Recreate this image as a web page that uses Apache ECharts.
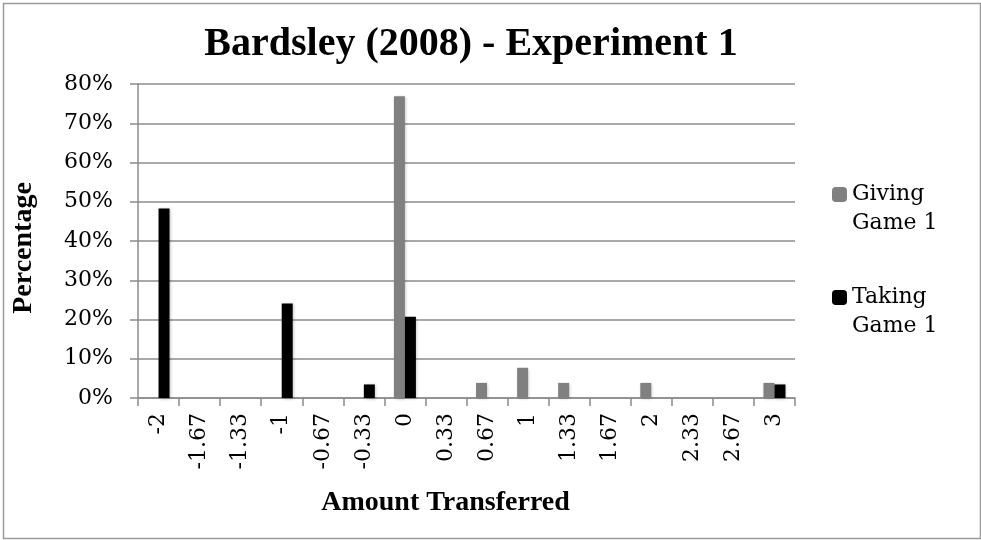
<!DOCTYPE html>
<html>
<head>
    <meta charset="utf-8">
    <title>Bardsley (2008) - Experiment 1</title>
    <script src="https://cdn.jsdelivr.net/npm/echarts@6/dist/echarts.min.js"></script>
    <style>
        html, body { margin: 0; padding: 0; background: #fff; }
        #main { width: 981px; height: 540px; }
    </style>
</head>
<body>
    <div id="main"></div>
    <script type="text/javascript">
        // data (percent)
        var categories = ['-2', '-1.67', '-1.33', '-1', '-0.67', '-0.33', '0', '0.33',
                          '0.67', '1', '1.33', '1.67', '2', '2.33', '2.67', '3'];
        var givingGame1 = [0, 0, 0, 0, 0, 0, 76.9, 0, 3.85, 7.7, 3.85, 0, 3.85, 0, 0, 3.85];
        var takingGame1 = [48.3, 0, 0, 24.1, 0, 3.45, 20.7, 0, 0, 0, 0, 0, 0, 0, 0, 3.45];
        var yTicks = [0, 10, 20, 30, 40, 50, 60, 70, 80];

        var serif = '"DejaVu Serif", "Liberation Serif", serif';
        var boldSerif = '"Liberation Serif", serif';
        var gridGray = '#8c8c8c';

        var myChart = echarts.init(document.getElementById('main'), null, { renderer: 'canvas' });

        var barShadow = {
            shadowColor: 'rgba(0,0,0,0.25)',
            shadowBlur: 3,
            shadowOffsetX: 1,
            shadowOffsetY: 1
        };

        var option = {
            animation: false,
            backgroundColor: '#fff',
            title: {
                text: 'Bardsley (2008) - Experiment 1',
                left: 466,
                textAlign: 'center',
                top: 20,
                textStyle: {
                    fontFamily: boldSerif,
                    fontWeight: 'bold',
                    fontSize: 40,
                    color: '#000'
                }
            },
            graphic: [{
                type: 'rect',
                left: 1,
                top: 1,
                shape: { width: 977, height: 535 },
                style: { fill: 'none', stroke: '#9a9a9a', lineWidth: 1.5 },
                silent: true
            }],
            legend: {
                orient: 'vertical',
                left: 827,
                top: 146,
                itemWidth: 15,
                itemHeight: 15,
                itemGap: 16,
                data: ['Giving Game 1', 'Taking Game 1'],
                formatter: function (name) {
                    // empty first line so the square lines up with the first word
                    return '\n' + name.replace(' Game', '\nGame');
                },
                textStyle: {
                    fontFamily: serif,
                    fontSize: 22,
                    lineHeight: 29,
                    color: '#000'
                }
            },
            grid: {
                left: 138,
                right: 186,
                top: 84,
                bottom: 142
            },
            xAxis: {
                type: 'category',
                data: categories,
                name: 'Amount Transferred',
                nameLocation: 'middle',
                nameGap: 91,
                nameTextStyle: {
                    fontFamily: boldSerif,
                    fontWeight: 'bold',
                    fontSize: 28,
                    color: '#000',
                    padding: [0, 42, 0, 0]
                },
                axisLine: { lineStyle: { color: gridGray, width: 1.5 } },
                axisTick: { show: true, length: 8, lineStyle: { color: gridGray, width: 1.5 } },
                axisLabel: {
                    rotate: 90,
                    interval: 0,
                    margin: 15,
                    fontFamily: serif,
                    fontSize: 22,
                    color: '#000'
                }
            },
            yAxis: {
                type: 'value',
                min: 0,
                max: 80,
                interval: 10,
                name: 'Percentage',
                nameLocation: 'middle',
                nameGap: 100,
                nameTextStyle: {
                    fontFamily: boldSerif,
                    fontWeight: 'bold',
                    fontSize: 28,
                    color: '#000',
                    padding: [0, 14, 0, 0]
                },
                axisLine: { show: true, lineStyle: { color: gridGray, width: 1.5 } },
                axisTick: { show: true, length: 8, lineStyle: { color: gridGray, width: 1.5 } },
                splitLine: { lineStyle: { color: gridGray, width: 1.5 } },
                axisLabel: {
                    margin: 25,
                    fontFamily: serif,
                    fontSize: 22,
                    color: '#000',
                    formatter: function (v) {
                        return yTicks.indexOf(v) >= 0 ? v + '%' : '';
                    }
                }
            },
            series: [{
                name: 'Giving Game 1',
                type: 'bar',
                data: givingGame1,
                barWidth: 11,
                barGap: '0%',
                itemStyle: Object.assign({ color: '#808080' }, barShadow)
            }, {
                name: 'Taking Game 1',
                type: 'bar',
                data: takingGame1,
                barWidth: 11,
                barGap: '0%',
                itemStyle: Object.assign({ color: '#000000' }, barShadow)
            }]
        };

        myChart.setOption(option);
    </script>
</body>
</html>
